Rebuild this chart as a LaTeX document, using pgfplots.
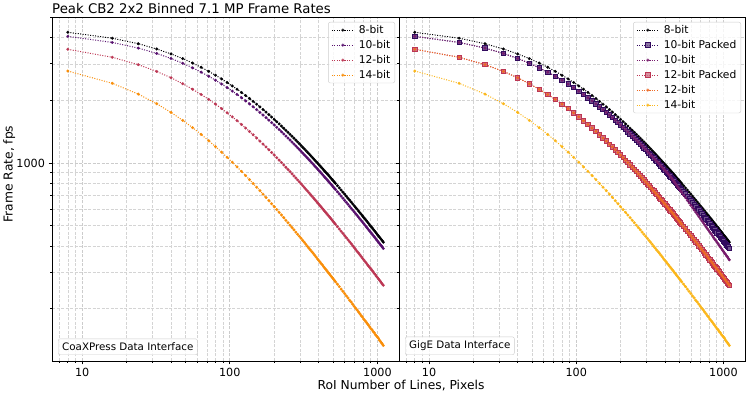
\documentclass[border=0pt]{standalone}
\usepackage{pgfplots}
\usepackage{pgfplotstable}
\pgfplotsset{compat=1.18}
\usepackage{fontspec}
\setmainfont{DejaVu Sans}

\definecolor{c8}{HTML}{000004}
\definecolor{cA10}{HTML}{57106E}
\definecolor{cA12}{HTML}{BC3754}
\definecolor{cA14}{HTML}{F98E09}
\definecolor{cG10p}{HTML}{320A5E}
\definecolor{cG10}{HTML}{781C6D}
\definecolor{cG12p}{HTML}{BC3754}
\definecolor{cG12}{HTML}{ED6925}
\definecolor{cG14}{HTML}{FBB61A}

% N = RoI lines; b8,b10,b12,b14 = frame rates (fps); g10 = GigE 10-bit unpacked
\pgfplotstableread{
N b8 b10 b12 b14 g10
8 4252 4065 3523 2770 4065
16 3983 3801 3225 2418 3801
24 3746 3570 2972 2146 3570
32 3535 3365 2757 1929 3365
40 3347 3182 2570 1752 3182
48 3178 3018 2407 1604 3018
56 3026 2870 2264 1480 2870
64 2887 2736 2137 1373 2736
72 2760 2614 2023 1281 2614
80 2644 2502 1921 1200 2502
88 2538 2399 1828 1129 2399
96 2439 2305 1744 1066 2305
104 2348 2218 1668 1010 2218
112 2264 2137 1598 959 2137
120 2185 2061 1533 913 2061
128 2112 1991 1474 871 1991
136 2043 1926 1419 833 1926
144 1979 1864 1368 798 1864
152 1919 1807 1320 766 1807
160 1862 1753 1276 737 1753
168 1808 1702 1234 709 1702
176 1758 1654 1196 684 1654
184 1710 1608 1159 660 1608
192 1665 1565 1125 638 1565
200 1622 1525 1093 617 1525
208 1581 1486 1062 598 1486
216 1543 1449 1033 580 1449
224 1506 1414 1006 563 1414
232 1470 1381 980 547 1381
240 1437 1349 955 531 1349
248 1405 1319 932 517 1319
256 1374 1290 910 503 1290
264 1345 1262 888 490 1262
272 1317 1235 868 478 1235
280 1290 1210 849 466 1210
288 1264 1185 830 455 1185
296 1239 1162 812 445 1162
304 1215 1139 795 435 1139
312 1192 1117 779 425 1117
320 1170 1096 763 416 1096
328 1148 1076 748 407 1076
336 1128 1057 734 398 1057
344 1108 1038 720 390 1038
352 1089 1020 707 382 1020
360 1070 1003 694 375 1003
368 1052 986 681 368 986
376 1035 969 669 361 969
384 1018 954 658 354 954
392 1002 938 646 347 938
400 986 923 636 341 923
408 971 909 625 335 909
416 956 895 615 329 895
424 942 882 605 324 882
432 928 869 596 318 869
440 915 856 587 313 855
448 902 844 578 308 840
456 889 832 569 303 825
464 877 820 561 298 811
472 865 809 553 294 797
480 853 798 545 289 784
488 841 787 537 285 771
496 830 776 529 281 758
504 820 766 522 277 746
512 809 756 515 273 735
520 799 747 508 269 723
536 779 728 495 262 702
552 760 711 482 255 682
568 742 694 470 248 662
584 725 678 459 242 644
600 709 662 448 236 627
616 693 648 438 230 611
632 678 634 428 225 595
648 664 620 419 219 581
664 650 607 410 215 567
680 637 595 401 210 553
696 624 583 393 205 541
712 612 572 385 201 528
728 601 561 377 197 517
744 589 550 370 193 506
760 578 540 363 189 495
776 568 530 356 185 485
792 558 521 349 182 475
808 548 512 343 178 466
824 539 503 337 175 457
840 530 494 331 172 448
856 521 486 325 169 439
872 513 478 320 166 431
888 504 471 315 163 424
904 496 463 310 160 416
920 489 456 305 158 409
936 481 449 300 155 402
952 474 442 295 153 395
968 467 436 291 150 389
984 460 429 286 148 382
1000 453 423 282 146 376
1016 447 417 278 144 370
1032 441 411 274 141 365
1048 435 405 270 139 359
1064 429 400 266 137 354
1080 423 395 262 135 348
1096 417 389 259 133 343
}\datatable

\pgfplotsset{
  dotser/.style={color=#1, line width=1pt, dash pattern=on 1pt off 1.5pt,
    mark=*, mark size=1.4pt, mark options={solid, fill=#1, draw=#1, line width=0.2pt}},
  sqser/.style={color=#1, line width=1pt, dash pattern=on 1pt off 1.5pt,
    mark=square*, mark size=2.2pt, mark options={solid, draw=#1, fill=#1!70!white, line width=0.8pt}},
  panel/.style={
    scale only axis, height=344pt,
    xmin=6.25, xmax=1400, ymin=112, ymax=5036,
    xtick={10,100,1000}, xticklabels={10,100,1000},
    minor xtick={7,8,9,20,30,40,50,60,70,80,90,200,300,400,500,600,700,800,900},
    ytick={1000},
    minor ytick={200,300,400,500,600,700,800,900,2000,3000,4000,5000},
    grid=both,
    major grid style={dash pattern=on 3pt off 1.5pt, black!20, line width=0.6pt},
    minor grid style={dash pattern=on 3pt off 1.5pt, black!17, line width=0.6pt},
    tick align=outside, tick pos=left,
    major tick length=3.5pt, minor tick length=2pt,
    tick style={black, line width=0.7pt},
    axis line style={line width=0.8pt},
    tick label style={font=\fontsize{11.2}{13}\selectfont},
    /pgf/number format/assume math mode=true,
    legend cell align=left,
    legend image code/.code={\draw[mark repeat=2,mark phase=2,##1] plot coordinates {(0pt,0pt) (11pt,0pt) (22pt,0pt)};},
    legend style={at={(1,1)}, anchor=north east, xshift=-4pt, yshift=-5pt,
      draw=black!20, rounded corners=2pt, fill=white, fill opacity=0.8, text opacity=1,
      font=\fontsize{10.7}{12}\selectfont, inner xsep=3pt, inner ysep=2pt, row sep=3.2pt,
      nodes={inner sep=1.5pt, text height=7.8pt, text depth=1pt},
      /tikz/every odd column/.append style={column sep=3pt}},
  },
}

\begin{document}
\begin{tikzpicture}
\useasboundingbox (0pt,0pt) rectangle (750pt,393pt);

\begin{loglogaxis}[panel, at={(52pt,32pt)}, anchor=south west, width=347pt,
  yticklabels={1000}]
\addplot[dotser=c8] table[x=N,y=b8] {\datatable};
\addlegendentry{8-bit}
\addplot[dotser=cA10] table[x=N,y=b10] {\datatable};
\addlegendentry{10-bit}
\addplot[dotser=cA12] table[x=N,y=b12] {\datatable};
\addlegendentry{12-bit}
\addplot[dotser=cA14] table[x=N,y=b14] {\datatable};
\addlegendentry{14-bit}
\node[anchor=south west, draw=black!20, rounded corners=2pt, fill=white, fill opacity=0.8, text opacity=1,
  inner xsep=4pt, inner ysep=4pt, font=\fontsize{10.3}{12}\selectfont]
  at (rel axis cs:0,0) [xshift=6pt, yshift=6pt] {CoaXPress Data Interface};
\end{loglogaxis}

\begin{loglogaxis}[panel, at={(399pt,32pt)}, anchor=south west, width=346pt,
  yticklabels={\mbox{}}]
\addplot[dotser=c8] table[x=N,y=b8] {\datatable};
\addlegendentry{8-bit}
\addplot[sqser=cG10p] table[x=N,y=b10] {\datatable};
\addlegendentry{10-bit Packed}
\addplot[dotser=cG10] table[x=N,y=g10] {\datatable};
\addlegendentry{10-bit}
\addplot[sqser=cG12p] table[x=N,y=b12] {\datatable};
\addlegendentry{12-bit Packed}
\addplot[dotser=cG12] table[x=N,y=b12] {\datatable};
\addlegendentry{12-bit}
\addplot[dotser=cG14] table[x=N,y=b14] {\datatable};
\addlegendentry{14-bit}
\node[anchor=south west, draw=black!20, rounded corners=2pt, fill=white, fill opacity=0.8, text opacity=1,
  inner xsep=4pt, inner ysep=4pt, font=\fontsize{10.3}{12}\selectfont]
  at (rel axis cs:0,0) [xshift=6pt, yshift=6pt] {GigE Data Interface};
\end{loglogaxis}

\node[anchor=base west, font=\fontsize{13.3}{15}\selectfont, inner sep=0pt] at (52pt,379pt) {Peak CB2 2x2 Binned 7.1 MP Frame Rates};
\node[anchor=base, font=\fontsize{12.3}{14}\selectfont, inner sep=0pt] at (401pt,3pt) {RoI Number of Lines, Pixels};
\node[anchor=base, rotate=90, font=\fontsize{12.3}{14}\selectfont, inner sep=0pt] at (12.5pt,219pt) {Frame Rate, fps};
\end{tikzpicture}
\end{document}
